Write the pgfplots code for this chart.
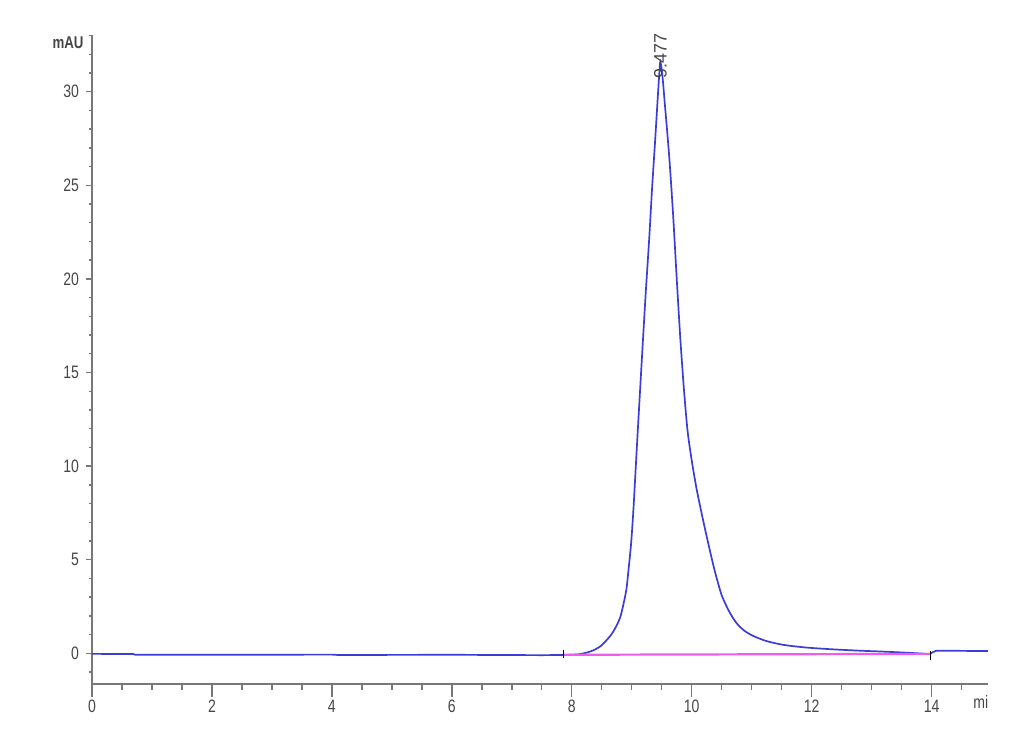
\documentclass[border=0pt]{standalone}
\usepackage{pgfplots}
\pgfplotsset{compat=1.18}
\usepackage{fontspec}
\setmainfont{Liberation Sans}
\newfontfamily\tickfont{Liberation Sans}[FakeStretch=0.78]
\definecolor{trace}{RGB}{60,60,215}
\definecolor{basel}{RGB}{240,90,240}
\definecolor{axgray}{RGB}{120,120,120}
\definecolor{lblgray}{RGB}{70,70,70}
\begin{document}
\begin{tikzpicture}
\path[use as bounding box] (-46pt,-35.5pt) rectangle (469pt,342pt);
\begin{axis}[
  at={(0pt,0pt)}, anchor=south west,
  scale only axis, width=448pt, height=324.5pt,
  xmin=0, xmax=14.94, ymin=-1.64, ymax=33.03,
  axis x line=bottom, axis y line=left,
  axis line style={-, axgray, line width=0.9pt},
  tick align=outside,
  tick style={axgray, line width=0.7pt},
  major tick length=3pt, minor tick length=1.6pt,
  xtick={0,0.5,...,14.5}, xticklabels={},
  extra x ticks={0,2,4,6,8,10,12,14},
  extra x tick style={major tick length=6.5pt, xticklabel style={yshift=2pt}},
  ytick={0,5,10,15,20,25,30},
  minor ytick={-1,1,2,3,4,6,7,8,9,11,12,13,14,16,17,18,19,21,22,23,24,26,27,28,29,31,32,33},
  /pgf/number format/assume math mode=true,
  ticklabel style={font=\tickfont\fontsize{9}{10}\selectfont, text=lblgray},
  clip=false,
]
\addplot[trace, line width=0.85pt] coordinates {
(0,-0.03) (0.69,-0.04) (0.72,-0.08) (2,-0.08) (4,-0.07) (4.1,-0.09) (6,-0.08) (7.5,-0.1) (7.87,-0.09)
};
\addplot[trace, line width=0.85pt, smooth, tension=0.45] coordinates {
(7.87,-0.09) (8.1,-0.06) (8.25,0.04) (8.36,0.16) (8.48,0.38) (8.58,0.7) (8.67,1.05) (8.75,1.5)
(8.81,1.95) (8.86,2.6) (8.91,3.4) (8.94,4.27) (8.99,5.9) (9.03,7.8) (9.09,11.3) (9.17,15.8)
(9.23,19.1) (9.29,22.1) (9.34,24.9) (9.39,27.4) (9.43,29.5) (9.46,31.0) (9.477,31.6)
(9.51,30.9) (9.55,29.4) (9.59,27.9) (9.63,26.3) (9.69,23.4) (9.75,20.0) (9.81,16.8)
(9.87,14.1) (9.93,11.9) (10.00,10.3) (10.08,8.8) (10.17,7.4) (10.27,5.95) (10.38,4.45)
(10.50,3.1) (10.63,2.2) (10.75,1.6) (10.88,1.2) (11.03,0.92) (11.25,0.65)
(11.53,0.45) (11.9,0.31) (12.36,0.21) (12.8,0.14) (13.19,0.09) (13.6,0.03) (13.97,-0.04)
};
\addplot[trace, line width=0.85pt] coordinates {
(13.97,-0.04) (14.02,0.06) (14.08,0.14) (14.5,0.13) (14.94,0.12)
};
\addplot[basel, line width=1.1pt] coordinates {(7.87,-0.08) (13.98,-0.03)};
\addplot[black, line width=0.5pt] coordinates {(7.87,-0.25) (7.87,0.2)};
\addplot[black, line width=0.5pt] coordinates {(13.98,-0.35) (13.98,0.1)};
\node[rotate=90, anchor=west, inner sep=0pt, text=lblgray,
  font=\fontsize{9}{10}\selectfont] at (axis cs:9.477,30.7) {9.477};
\end{axis}
\node[text=lblgray, font=\tickfont\fontsize{8.5}{10}\selectfont\bfseries] at (-12pt,320.5pt) {mAU};
\begin{scope}
\clip (430pt,-25pt) rectangle (448pt,0pt);
\node[anchor=west, inner sep=0pt, text=lblgray, font=\tickfont\fontsize{9}{10}\selectfont] at (440.5pt,-9pt) {min};
\end{scope}
\end{tikzpicture}
\end{document}
